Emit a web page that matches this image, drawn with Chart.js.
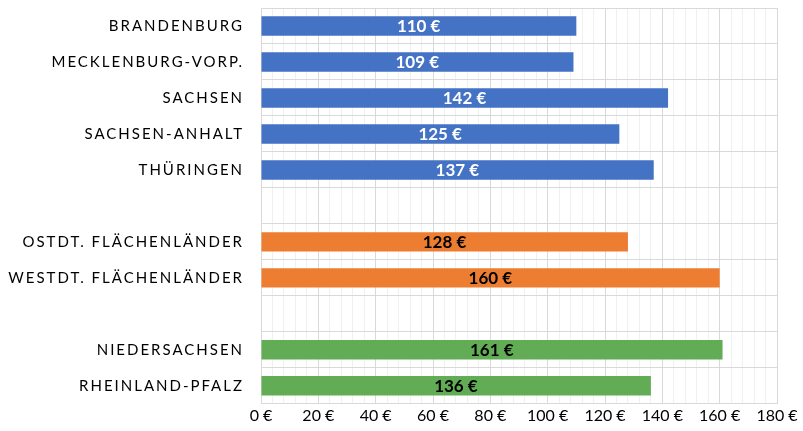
<!DOCTYPE html>
<html>
<head>
<meta charset="utf-8">
<script src="https://cdn.jsdelivr.net/npm/chart.js@4/dist/chart.umd.min.js"></script>
<style>
html,body{margin:0;padding:0;background:#fff;}
#wrap{width:803px;height:431px;}
</style>
</head>
<body>
<div id="wrap"><canvas id="c" width="803" height="431"></canvas></div>
<script>
const categories = ['BRANDENBURG','MECKLENBURG-VORP.','SACHSEN','SACHSEN-ANHALT','THÜRINGEN','','OSTDT. FLÄCHENLÄNDER','WESTDT. FLÄCHENLÄNDER','','NIEDERSACHSEN','RHEINLAND-PFALZ'];
const values = [110,109,142,125,137,null,128,160,null,161,136];
const groups = ['ost','ost','ost','ost','ost',null,'avg','avg',null,'west','west'];
const xMax = 180;
const xMajorStep = 20;
const xMinorStep = 4;

const groupColor = {ost:'#4472C4', avg:'#ED7D31', west:'#62AC56'};
const labelColor = {ost:'#FFFFFF', avg:'#000000', west:'#000000'};

const valueLabels = {
  id:'valueLabels',
  afterDatasetsDraw(chart){
    const ctx = chart.ctx;
    const meta = chart.getDatasetMeta(0);
    ctx.save();
    ctx.font = 'bold 17px Lato, "Open Sans", sans-serif';
    ctx.textAlign = 'center';
    ctx.textBaseline = 'middle';
    meta.data.forEach((bar,i)=>{
      if(values[i]==null) return;
      const x0 = chart.scales.x.getPixelForValue(0);
      ctx.fillStyle = labelColor[groups[i]];
      ctx.fillText(values[i]+' €', (x0+bar.x)/2, bar.y+1);
    });
    ctx.restore();
  }
};

const spacedLabels = {
  id:'spacedLabels',
  beforeDraw(chart){
    const y = chart.scales.y;
    if(!y._wrapped){
      const orig = y.drawLabels.bind(y);
      y.drawLabels = function(area){
        const ctx = chart.ctx;
        ctx.save();
        ctx.letterSpacing = '2px';
        orig(area);
        ctx.restore();
        ctx.letterSpacing = '0px';
      };
      y._wrapped = true;
    }
  }
};

new Chart(document.getElementById('c'),{
  type:'bar',
  data:{
    labels:categories,
    datasets:[{
      data:values,
      backgroundColor:groups.map(g=>g?groupColor[g]:'transparent'),
      barPercentage:0.54,
      categoryPercentage:1.0
    }]
  },
  plugins:[valueLabels, spacedLabels],
  options:{
    indexAxis:'y',
    responsive:false,
    animation:false,
    layout:{padding:{top:8,right:26,left:0,bottom:4}},
    plugins:{legend:{display:false},tooltip:{enabled:false}},
    scales:{
      x:{
        min:0,max:xMax,
        afterFit:s=>{s.paddingLeft=0;s.paddingRight=0;},
        grid:{
          drawTicks:false,
          color:ctx=>(ctx.tick && ctx.tick.value % xMajorStep===0)?'#D9D9D9':'#F0F0F0',
          lineWidth:1
        },
        border:{color:'#D9D9D9'},
        ticks:{
          stepSize:xMinorStep,
          autoSkip:false,
          maxRotation:0,
          padding:2,
          color:'#000',
          font:{family:'Lato, "Open Sans", sans-serif',size:16},
          callback:v=>(v % xMajorStep===0)?(v+' €'):''
        }
      },
      y:{
        grid:{color:'#D9D9D9',drawTicks:false,offset:true},
        border:{color:'#D9D9D9'},
        afterFit:s=>{s.width=261;s.paddingTop=0;s.paddingBottom=0;},
        ticks:{
          padding:17,
          color:'#000',
          autoSkip:false,
          font:{family:'Lato, "Open Sans", sans-serif',size:15}
        }
      }
    }
  }
});
</script>
</body>
</html>
